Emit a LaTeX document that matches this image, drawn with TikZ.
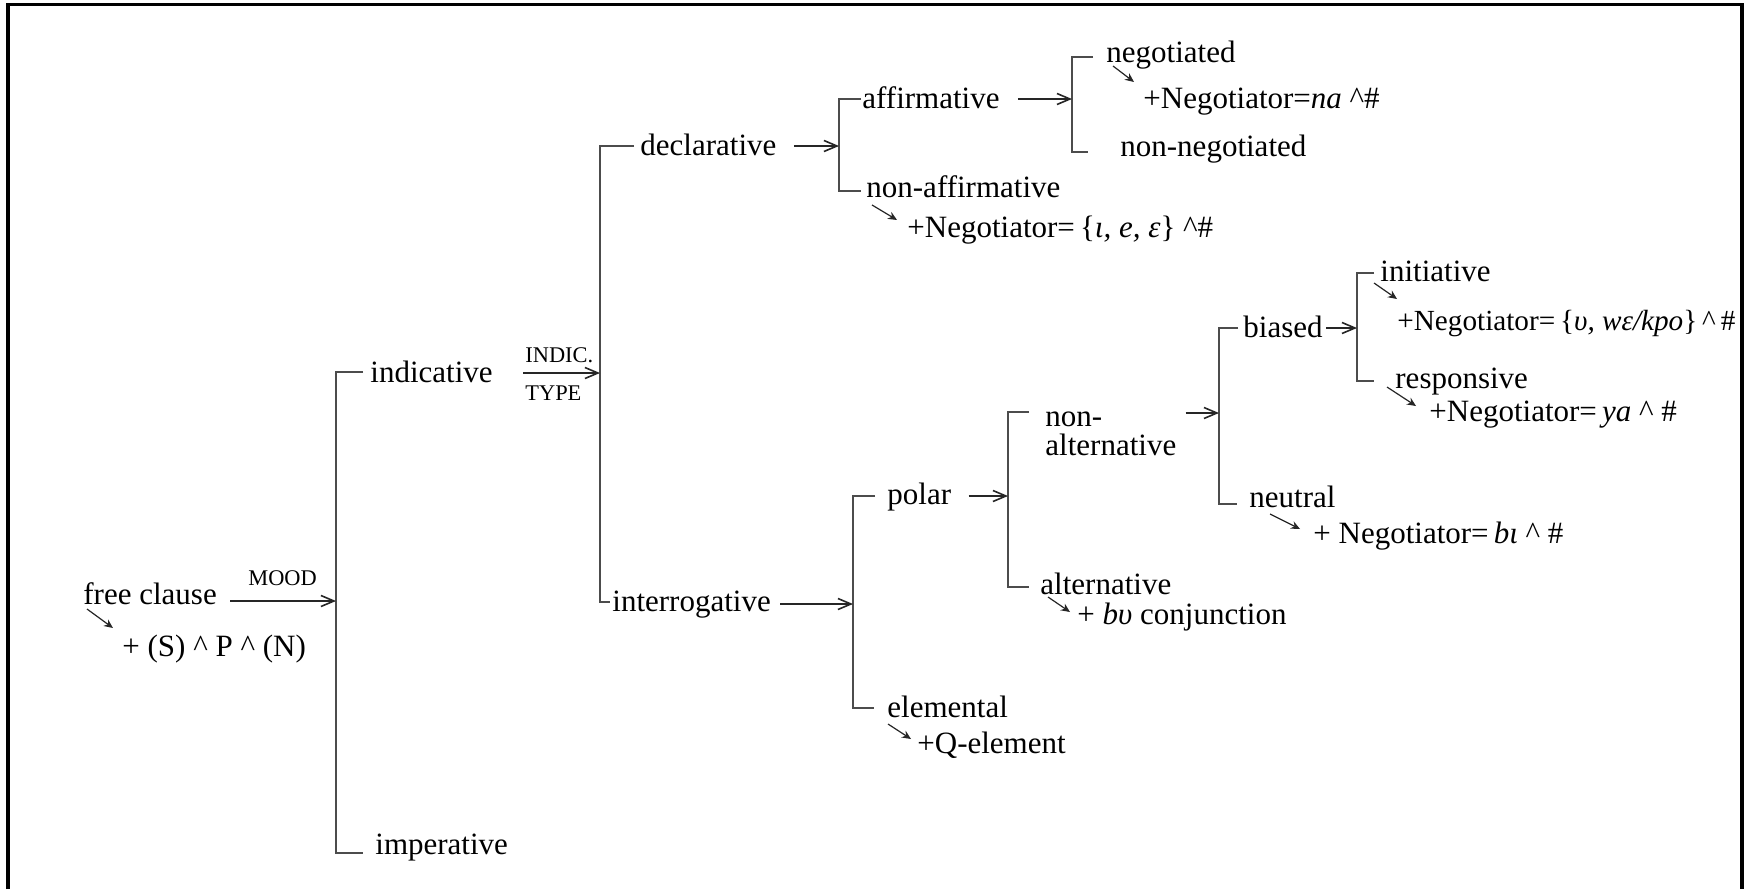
\documentclass[tikz,border=0pt]{standalone}
\usepackage{fontspec}
\setmainfont{Liberation Serif}
\usetikzlibrary{arrows.meta,calc}
\begin{document}
\begin{tikzpicture}[x=0.5pt,y=-0.5pt,
  lbl/.style={anchor=base west,inner sep=0pt,font=\fontsize{15.5}{14.2}\selectfont},
  syslbl/.style={anchor=base west,inner sep=0pt,font=\fontsize{11.2}{13}\selectfont},
  brk/.style={draw=black!70,line width=1pt},
  arr/.style={draw=black!85,line width=0.8pt,-{Straight Barb[length=6.5pt,width=5.5pt]}},
  sarr/.style={draw=black!85,line width=0.6pt,-{Stealth[length=4.5pt,width=4pt]}},
  frame/.style={draw=black,line width=1.6pt}]
\useasboundingbox (0,0) rectangle (1744,889);

% outer frame, open at the bottom
\draw[frame] (8,889) -- (8,4.5) -- (1742,4.5) -- (1742,889);

% ---- labels ----
\node[lbl] (free) at (83,604) {free clause};
\node[lbl] (fcf) at (122,656) {+ (S) \textasciicircum\ P \textasciicircum\ (N)};
\node[syslbl] (mood) at (248,585) {MOOD};
\node[lbl] (ind) at (370,382) {indicative};
\node[lbl] (imp) at (375,854) {imperative};
\node[syslbl] (indic) at (525,362) {INDIC.};
\node[syslbl] (type) at (525,400) {TYPE};
\node[lbl] (decl) at (640,155) {declarative};
\node[lbl] (inter) at (612,611) {interrogative};
\node[lbl] (aff) at (862,108) {affirmative};
\node[lbl] (naff) at (866,197) {non-affirmative};
\node[lbl] (naffr) at (907,237) {+Negotiator=\,\{\textit{ɩ, e, ɛ}\} \textasciicircum\#};
\node[lbl] (neg) at (1106,62) {negotiated};
\node[lbl] (negr) at (1143,108) {+Negotiator=\textit{na} \textasciicircum\#};
\node[lbl] (nneg) at (1120,156) {non-negotiated};
\node[lbl] (pol) at (887,504) {polar};
\node[lbl] (elem) at (887,717) {elemental};
\node[lbl] (qel) at (917,753) {+Q-element};
\node[lbl,align=left] (nalt) at (1045,455) {non-\\alternative};
\node[lbl] (alt) at (1040,594) {alternative};
\node[lbl] (altr) at (1077,624) {+ \textit{bυ} conjunction};
\node[lbl] (bias) at (1243,337) {biased};
\node[lbl] (neut) at (1249,507) {neutral};
\node[lbl] (neutr) at (1313,543) {+ Negotiator=\,\textit{bɩ} \textasciicircum\ \#};
\node[lbl] (init) at (1380,281) {initiative};
\node[lbl,font=\fontsize{14.6}{14}\selectfont] (initr) at (1397,330)
  {+Negotiator=\,\{\textit{υ, wɛ/kpo}\}\,\textasciicircum\,\#};
\node[lbl] (resp) at (1395,388) {responsive};
\node[lbl] (respr) at (1429,421) {+Negotiator=\,\textit{ya} \textasciicircum\ \#};

% ---- bracket spines (where the arrows arrive) and tick ends ----
\coordinate (s1) at (336,601);  \coordinate (s1t) at (363,372);  \coordinate (s1b) at (363,853);
\coordinate (s2) at (600,373);  \coordinate (s2t) at (634,146);  \coordinate (s2b) at (610,602);
\coordinate (s3) at (839,146);  \coordinate (s3t) at (861,99);   \coordinate (s3b) at (861,191);
\coordinate (s4) at (1072,99);  \coordinate (s4t) at (1093,57);  \coordinate (s4b) at (1088,152);
\coordinate (s5) at (853,604);  \coordinate (s5t) at (875,496);  \coordinate (s5b) at (874,708);
\coordinate (s6) at (1008,496); \coordinate (s6t) at (1029,412); \coordinate (s6b) at (1029,587);
\coordinate (s7) at (1219,413); \coordinate (s7t) at (1238,328); \coordinate (s7b) at (1237,504);
\coordinate (s8) at (1357,328); \coordinate (s8t) at (1374,273); \coordinate (s8b) at (1374,381);

\foreach \s in {s1,s2,s3,s4,s5,s6,s7,s8}
  \draw[brk] (\s t) -| (\s) |- (\s b);

% ---- system arrows ----
\draw[arr,shorten <=6.5pt] (free.east |- s1) -- (s1);
\draw[arr,shorten <=15pt] (ind.east |- s2) -- (s2);
\draw[arr,shorten <=8.5pt] (decl.east |- s3) -- (s3);
\draw[arr,shorten <=9pt] (aff.east |- s4) -- (s4);
\draw[arr,shorten <=4.5pt] (inter.east |- s5) -- (s5);
\draw[arr,shorten <=8.5pt] (pol.east |- s6) -- (s6);
\draw[arr,shorten <=4.5pt] (nalt.east |- s7) -- (s7);
\draw[arr,shorten <=1.5pt] (bias.east |- s8) -- (s8);

% ---- realisation arrows ----
\draw[sarr] ($(free.base west)+(4,5)$) -- ($(fcf.base west)+(-9,-28)$);
\draw[sarr] ($(neg.base west)+(7,4)$) -- ($(negr.base west)+(-9,-26)$);
\draw[sarr] ($(naff.base west)+(6,8)$) -- ($(naffr.base west)+(-10,-17)$);
\draw[sarr] ($(alt.base west)+(8,3)$) -- ($(altr.base west)+(-7,-12)$);
\draw[sarr] ($(elem.base west)+(1,7)$) -- ($(qel.base west)+(-6,-14)$);
\draw[sarr] ($(init.base west)+(-6,2)$) -- ($(initr.base west)+(0,-31)$);
\draw[sarr] ($(resp.base west)+(-8,-1)$) -- ($(respr.base west)+(-13,-15)$);
\draw[sarr] ($(neut.base west)+(21,7)$) -- ($(neutr.base west)+(-13,-14)$);
\end{tikzpicture}
\end{document}
